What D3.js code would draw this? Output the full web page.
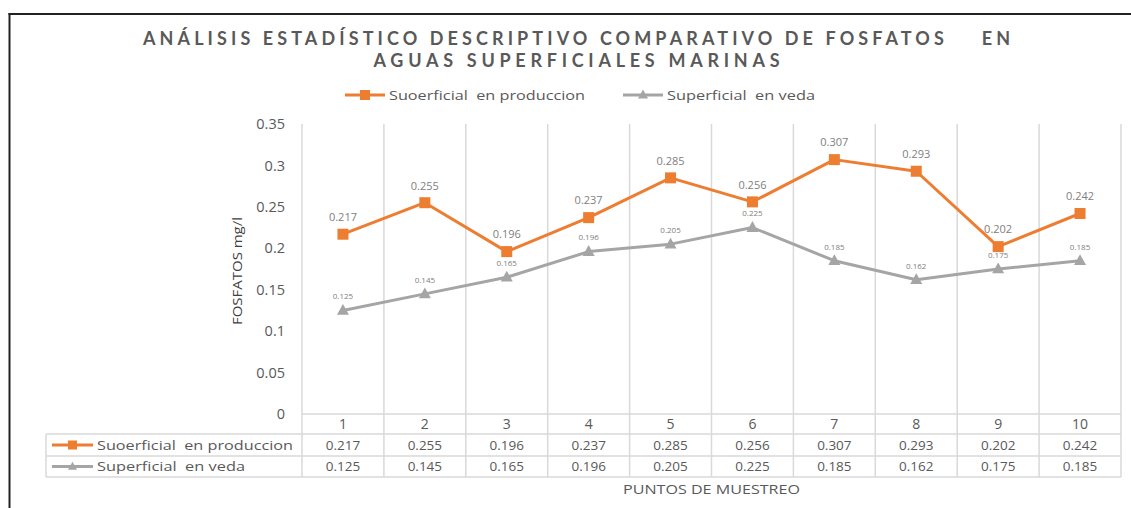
<!DOCTYPE html>
<html><head><meta charset="utf-8">
<script src="https://cdn.jsdelivr.net/npm/d3@7"></script>
<style>
html,body{margin:0;padding:0;background:#fff;}
svg{display:block;font-family:"Open Sans","Liberation Sans",sans-serif;}
</style></head>
<body>
<svg id="chart" width="1131" height="508"></svg>
<script>
const categories = ["1","2","3","4","5","6","7","8","9","10"];
const produccion = [0.217,0.255,0.196,0.237,0.285,0.256,0.307,0.293,0.202,0.242];
const veda = [0.125,0.145,0.165,0.196,0.205,0.225,0.185,0.162,0.175,0.185];
const yTicks = [0,0.05,0.1,0.15,0.2,0.25,0.3,0.35];
const seriesNames = ["Suoerficial  en produccion","Superficial  en veda"];
const titleLines = ["ANÁLISIS ESTADÍSTICO DESCRIPTIVO COMPARATIVO DE FOSFATOS    EN","AGUAS SUPERFICIALES MARINAS"];

(function(){
const series = [
  {name: seriesNames[0], values: produccion, color: "#ED7D31", marker: "square"},
  {name: seriesNames[1], values: veda, color: "#A5A5A5", marker: "triangle"}
];

const svg = d3.select("#chart");
const pLeft = 302, pRight = 1121, pTop = 124, pBottom = 414;
const x = d3.scaleBand().domain(categories).range([pLeft, pRight]);
const y = d3.scaleLinear().domain([0, 0.35]).range([pBottom, pTop]);
const textCol = "#595959";

// frame
svg.append("line").attr("x1",9.5).attr("x2",9.5).attr("y1",13).attr("y2",508).attr("stroke","#222").attr("stroke-width",2);
svg.append("line").attr("x1",8.5).attr("x2",1131).attr("y1",14).attr("y2",14).attr("stroke","#222").attr("stroke-width",2);

// title
const tw = [867, 406];
titleLines.forEach((t,i)=>{
  svg.append("text").attr("x",576.5).attr("y",45+i*22).attr("text-anchor","middle")
    .attr("font-family","Lato,'Open Sans',sans-serif")
    .attr("font-size",18).attr("font-weight","bold").attr("fill",textCol)
    .attr("textLength",tw[i]).attr("lengthAdjust","spacing")
    .style("white-space","pre").text(t);
});

function drawMarker(g, type, cx, cy, color, size){
  if(type==="square"){
    g.append("rect").attr("x",cx-size/2).attr("y",cy-size/2).attr("width",size).attr("height",size).attr("fill",color);
  } else {
    const h = size*0.9;
    g.append("path").attr("d",`M${cx},${cy-h*0.6}L${cx+size/2},${cy+h*0.4}L${cx-size/2},${cy+h*0.4}Z`).attr("fill",color);
  }
}

// legend
const legX = [345, 623];
const legW = [196, 148];
series.forEach((s,i)=>{
  const g = svg.append("g");
  g.append("line").attr("x1",legX[i]).attr("x2",legX[i]+40).attr("y1",95).attr("y2",95).attr("stroke",s.color).attr("stroke-width",3);
  drawMarker(g, s.marker, legX[i]+20, 95, s.color, 10);
  g.append("text").attr("x",legX[i]+44).attr("y",95).attr("dy","0.35em").attr("font-size",13.5).attr("fill",textCol)
    .attr("textLength",legW[i]).attr("lengthAdjust","spacingAndGlyphs").style("white-space","pre").text(s.name);
});

// vertical gridlines (category boundaries)
const bounds = categories.map(c=>x(c)).concat([pRight]);
svg.append("g").selectAll("line").data(bounds).join("line")
  .attr("x1",d=>d).attr("x2",d=>d).attr("y1",pTop).attr("y2",477)
  .attr("stroke","#D9D9D9").attr("stroke-width",1.5);

// y axis labels
const yAxis = d3.axisLeft(y).tickValues(yTicks).tickSize(0).tickPadding(0).tickFormat(d=>String(+d.toFixed(2)));
const ya = svg.append("g").attr("transform",`translate(285,0)`).call(yAxis);
ya.select(".domain").remove();
ya.selectAll("text").attr("font-size",14.5).attr("fill",textCol).attr("font-family","'Open Sans',sans-serif");

// y title
svg.append("text").attr("transform",`translate(242,${(pTop+pBottom)/2+2}) rotate(-90)`).attr("text-anchor","middle")
  .attr("font-size",13).attr("fill","#404040").attr("textLength",108).attr("lengthAdjust","spacingAndGlyphs").text("FOSFATOS mg/l");

// table lines
const rowsY = [414, 434, 456, 477];
svg.append("line").attr("x1",pLeft).attr("x2",pRight).attr("y1",rowsY[0]).attr("y2",rowsY[0]).attr("stroke","#D9D9D9").attr("stroke-width",1.5);
[1,2,3].forEach(i=>{
  svg.append("line").attr("x1",46).attr("x2",pRight).attr("y1",rowsY[i]).attr("y2",rowsY[i]).attr("stroke","#D9D9D9").attr("stroke-width",1.5);
});
svg.append("line").attr("x1",46).attr("x2",46).attr("y1",rowsY[1]).attr("y2",rowsY[3]).attr("stroke","#D9D9D9").attr("stroke-width",1.5);

// category labels (x axis)
const xAxis = d3.axisBottom(x).tickSize(0).tickPadding(0);
const xa = svg.append("g").attr("transform",`translate(0,${rowsY[0]})`).call(xAxis);
xa.select(".domain").remove();
xa.selectAll("text").attr("y",10).attr("dy","0.35em").attr("font-size",14).attr("fill",textCol).attr("font-family","'Open Sans',sans-serif");

// table rows
const rowLegW = [196, 148];
series.forEach((s,i)=>{
  const cy = (rowsY[i+1]+rowsY[i+2])/2;
  const g = svg.append("g");
  g.append("line").attr("x1",52).attr("x2",93).attr("y1",cy).attr("y2",cy).attr("stroke",s.color).attr("stroke-width",3);
  drawMarker(g, s.marker, 72.5, cy, s.color, 9);
  g.append("text").attr("x",97).attr("y",cy).attr("dy","0.35em").attr("font-size",13.5).attr("fill",textCol)
    .attr("textLength",rowLegW[i]).attr("lengthAdjust","spacingAndGlyphs").style("white-space","pre").text(s.name);
  g.selectAll("text.v").data(s.values).join("text").attr("class","v")
    .attr("x",(d,j)=>x(categories[j])+x.bandwidth()/2).attr("y",cy).attr("dy","0.35em")
    .attr("text-anchor","middle").attr("font-size",13.5).attr("fill",textCol).text(d=>d3.format(".3f")(d));
});

// x title
svg.append("text").attr("x",(pLeft+pRight)/2).attr("y",489).attr("dy","0.35em").attr("text-anchor","middle")
  .attr("font-size",13).attr("fill",textCol).attr("textLength",177).attr("lengthAdjust","spacingAndGlyphs").text("PUNTOS DE MUESTREO");

// lines
const line = d3.line().x((d,j)=>x(categories[j])+x.bandwidth()/2).y(d=>y(d));
[series[1], series[0]].forEach(s=>{
  svg.append("path").datum(s.values).attr("d",line).attr("fill","none").attr("stroke",s.color).attr("stroke-width",3).attr("stroke-linejoin","round");
  const g = svg.append("g");
  s.values.forEach((v,j)=>{
    drawMarker(g, s.marker, x(categories[j])+x.bandwidth()/2, y(v), s.color, s.marker==="square"?11:12);
  });
});

// data labels
series.forEach((s,i)=>{
  svg.append("g").selectAll("text").data(s.values).join("text")
    .attr("x",(d,j)=>x(categories[j])+x.bandwidth()/2)
    .attr("y",d=>y(d) - (i===0?17:14))
    .attr("dy","0.35em").attr("text-anchor","middle")
    .attr("font-size",i===0?11:8).attr("fill","#808080")
    .text(d=>d3.format(".3f")(d));
});
})();
</script>
</body></html>
